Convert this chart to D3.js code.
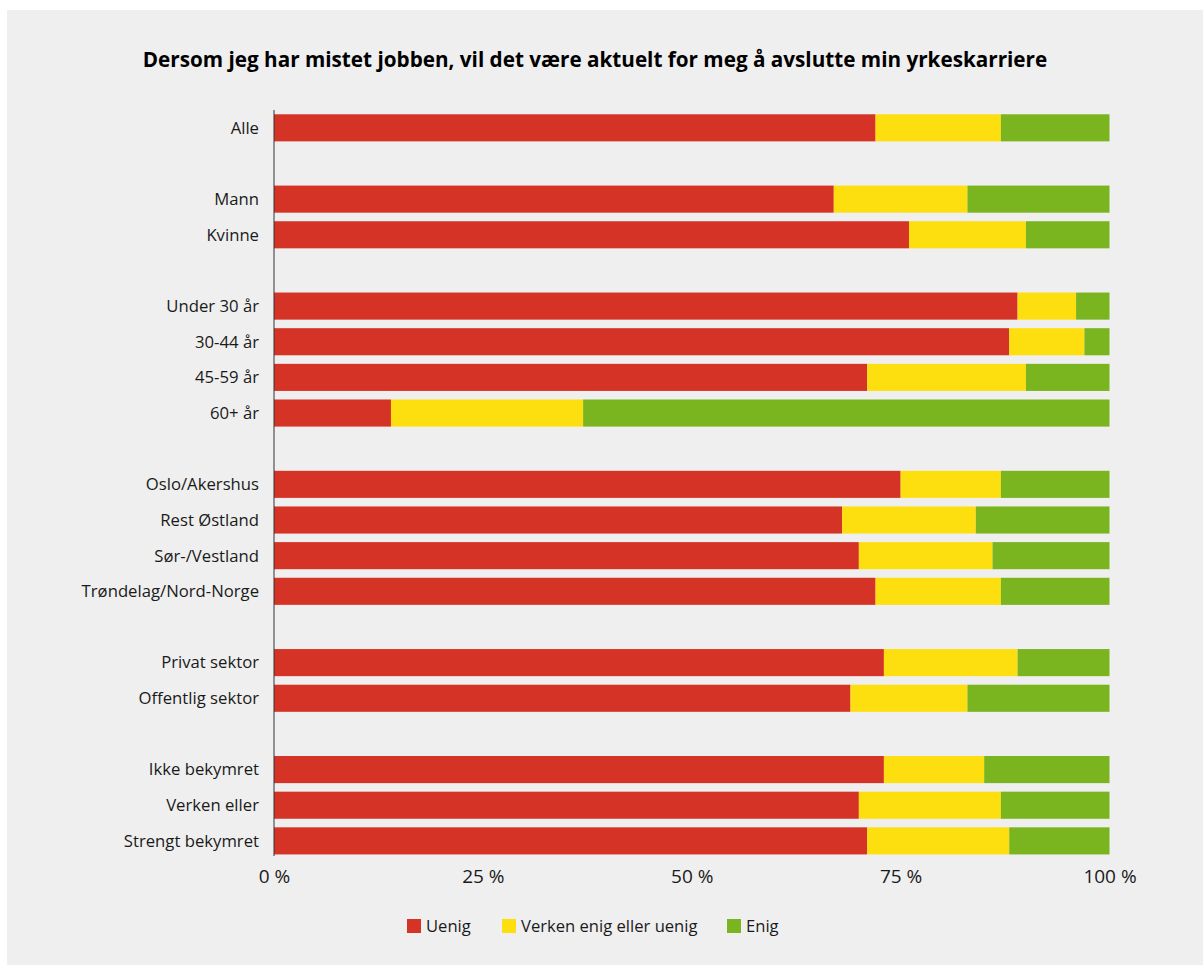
<!DOCTYPE html>
<html>
<head>
  <meta charset="utf-8">
  <title>Avslutte yrkeskarriere</title>
  <script src="https://cdn.jsdelivr.net/npm/d3@7"></script>
  <style>
    body { margin: 0; background: #ffffff; }
    text { font-family: "Open Sans", "Noto Sans", sans-serif; fill: #1a1a1a; }
  </style>
</head>
<body>
  <script>
    // Kategorier, "" = tom rad mellom grupper
    const kategorier = ["Alle", "", "Mann", "Kvinne", "", "Under 30 år", "30-44 år", "45-59 år", "60+ år", "",
      "Oslo/Akershus", "Rest Østland", "Sør-/Vestland", "Trøndelag/Nord-Norge", "",
      "Privat sektor", "Offentlig sektor", "", "Ikke bekymret", "Verken eller", "Strengt bekymret"];

    // Prosent per kategori (samme rekkefølge, null for tomme rader)
    const uenig  = [72, null, 67, 76, null, 89, 88, 71, 14, null, 75, 68, 70, 72, null, 73, 69, null, 73, 70, 71];
    const verken = [15, null, 16, 14, null, 7, 9, 19, 23, null, 12, 16, 16, 15, null, 16, 14, null, 12, 17, 17];
    const enig   = [13, null, 17, 10, null, 4, 3, 10, 63, null, 13, 16, 14, 13, null, 11, 17, null, 15, 13, 12];

    const serier = ["Uenig", "Verken enig eller uenig", "Enig"];
    const farger = ["#d63327", "#fddf0f", "#7ab41f"];
    const tickVerdier = [0, 25, 50, 75, 100];

    const w = 1203;
    const h = 965;

    const svg = d3.select("body").append("svg")
      .attr("width", w)
      .attr("height", h);

    // grå bakgrunn
    svg.append("rect")
      .attr("x", 7).attr("y", 10)
      .attr("width", w - 7).attr("height", h - 10)
      .attr("fill", "#efefef");

    svg.append("text")
      .attr("x", 595)
      .attr("y", 67)
      .attr("text-anchor", "middle")
      .attr("font-size", "20.7px")
      .attr("font-weight", "bold")
      .style("fill", "#000")
      .text("Dersom jeg har mistet jobben, vil det være aktuelt for meg å avslutte min yrkeskarriere");

    const rader = kategorier.map((k, i) => ({
      key: "r" + i,
      navn: k,
      verdier: [uenig[i], verken[i], enig[i]]
    }));

    const x = d3.scaleLinear().domain([0, 100]).range([274, 1109.5]);
    const y = d3.scaleBand()
      .domain(rader.map(d => d.key))
      .range([110, 858.7])
      .paddingInner(0.24)
      .paddingOuter(0.12);

    // stable data
    const tabell = rader.filter(d => d.navn !== "").map(d => {
      const o = { key: d.key };
      serier.forEach((s, j) => o[s] = d.verdier[j]);
      return o;
    });
    const stack = d3.stack().keys(serier)(tabell);

    svg.selectAll("g.serie")
      .data(stack)
      .enter()
      .append("g")
      .attr("class", "serie")
      .attr("fill", (d, i) => farger[i])
      .selectAll("rect")
      .data(d => d)
      .enter()
      .append("rect")
      .attr("x", d => x(d[0]))
      .attr("y", d => y(d.data.key))
      .attr("width", d => x(d[1]) - x(d[0]))
      .attr("height", y.bandwidth());

    // y-akse (bare linje og etiketter)
    const yAkse = svg.append("g")
      .attr("transform", "translate(274,0)")
      .call(d3.axisLeft(y)
        .tickSize(0)
        .tickPadding(15)
        .tickFormat(k => rader.find(r => r.key === k).navn));
    yAkse.select(".domain").remove();
    yAkse.selectAll("text")
      .attr("font-size", "16.7px")
      .attr("dy", "0.35em");

    svg.append("line")
      .attr("x1", 274).attr("x2", 274)
      .attr("y1", 110).attr("y2", 856)
      .attr("stroke", "#333")
      .attr("stroke-width", 1);

    // x-akse etiketter
    const xAkse = svg.append("g")
      .attr("transform", "translate(0,856)")
      .call(d3.axisBottom(x)
        .tickValues(tickVerdier)
        .tickSize(0)
        .tickPadding(14)
        .tickFormat(d => d + " %"));
    xAkse.select(".domain").remove();
    xAkse.selectAll("text")
      .attr("font-size", "19px")
      .attr("fill", "#1a1a1a");

    // legend
    const legX = [407, 502, 727];
    const leg = svg.selectAll("g.leg")
      .data(serier)
      .enter()
      .append("g")
      .attr("class", "leg")
      .attr("transform", (d, i) => "translate(" + legX[i] + ",919)");
    leg.append("rect")
      .attr("width", 14).attr("height", 14)
      .attr("fill", (d, i) => farger[i]);
    leg.append("text")
      .attr("x", 19).attr("y", 13)
      .attr("font-size", "16.6px")
      .text(d => d);
  </script>
</body>
</html>
